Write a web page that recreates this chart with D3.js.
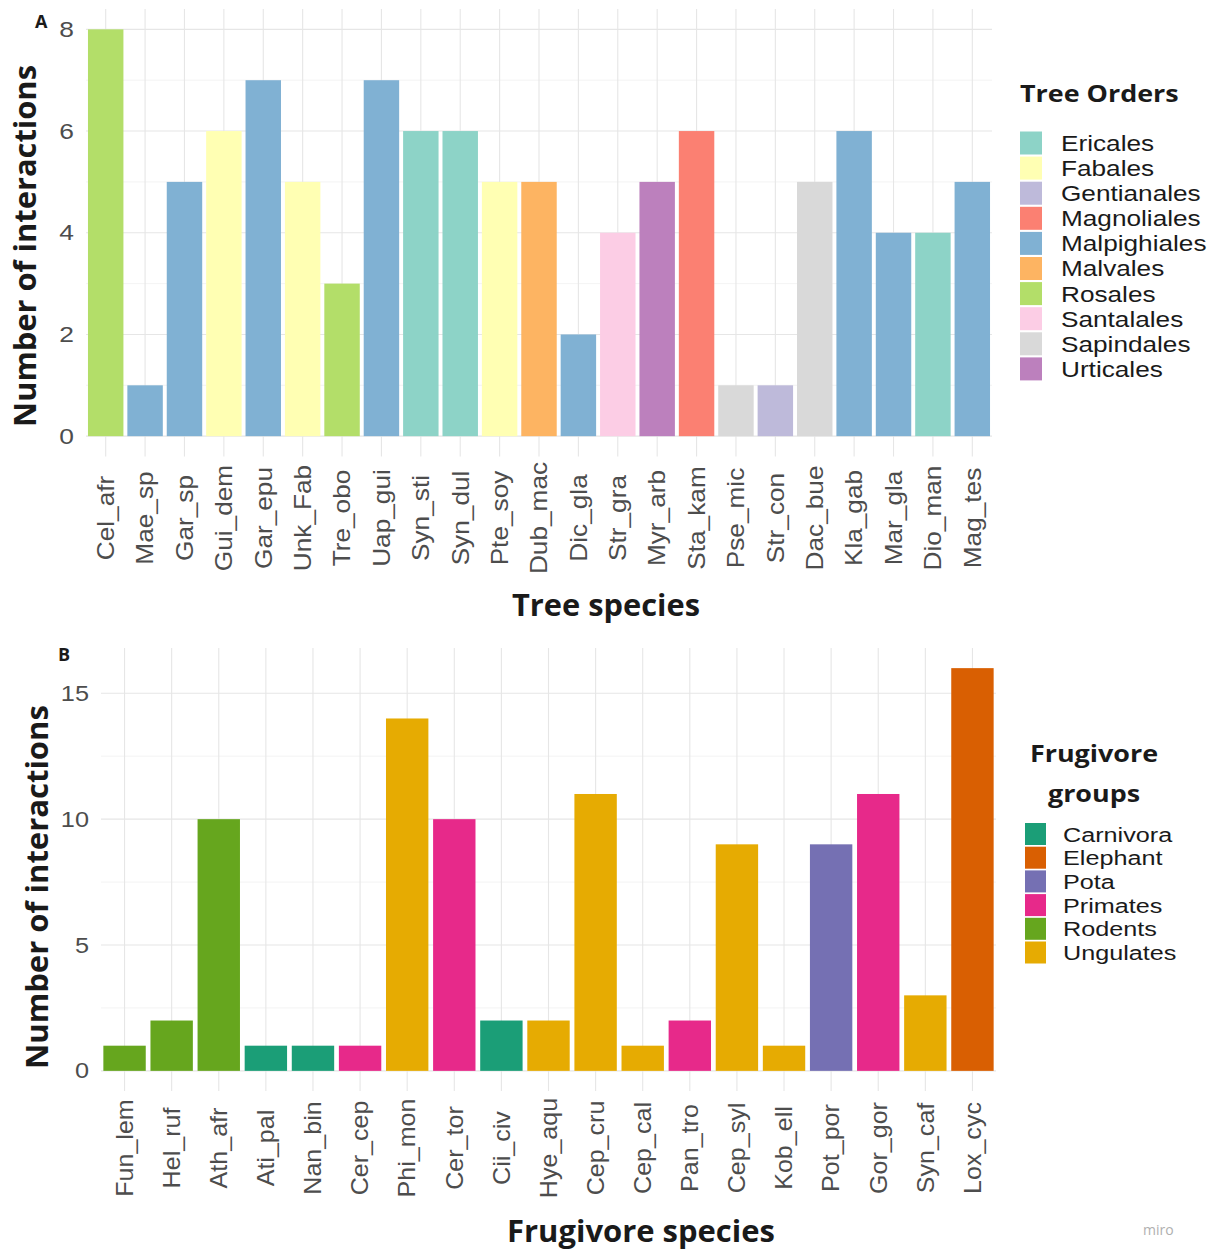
<!DOCTYPE html>
<html><head><meta charset="utf-8">
<script src="https://cdn.jsdelivr.net/npm/d3@7"></script>
<style>body{margin:0;background:#fff}svg{display:block}</style>
</head><body>
<svg id="c" width="1217" height="1250"></svg>
<script>
// Panel A data
const treeSpecies = ["Cel_afr","Mae_sp","Gar_sp","Gui_dem","Gar_epu","Unk_Fab","Tre_obo","Uap_gui","Syn_sti","Syn_dul","Pte_soy","Dub_mac","Dic_gla","Str_gra","Myr_arb","Sta_kam","Pse_mic","Str_con","Dac_bue","Kla_gab","Mar_gla","Dio_man","Mag_tes"];
const treeValues = [8,1,5,6,7,5,3,7,6,6,5,5,2,4,5,6,1,1,5,6,4,4,5];
const treeOrderOf = ["Rosales","Malpighiales","Malpighiales","Fabales","Malpighiales","Fabales","Rosales","Malpighiales","Ericales","Ericales","Fabales","Malvales","Malpighiales","Santalales","Urticales","Magnoliales","Sapindales","Gentianales","Sapindales","Malpighiales","Malpighiales","Ericales","Malpighiales"];
const treeOrders = ["Ericales","Fabales","Gentianales","Magnoliales","Malpighiales","Malvales","Rosales","Santalales","Sapindales","Urticales"];
const treeColors = ["#8DD3C7","#FFFFB3","#BEBADA","#FB8072","#80B1D3","#FDB462","#B3DE69","#FCCDE5","#D9D9D9","#BC80BD"];
const treeTicks = [0,2,4,6,8];

// Panel B data
const frugSpecies = ["Fun_lem","Hel_ruf","Ath_afr","Ati_pal","Nan_bin","Cer_cep","Phi_mon","Cer_tor","Cii_civ","Hye_aqu","Cep_cru","Cep_cal","Pan_tro","Cep_syl","Kob_ell","Pot_por","Gor_gor","Syn_caf","Lox_cyc"];
const frugValues = [1,2,10,1,1,1,14,10,2,2,11,1,2,9,1,9,11,3,16];
const frugGroupOf = ["Rodents","Rodents","Rodents","Carnivora","Carnivora","Primates","Ungulates","Primates","Carnivora","Ungulates","Ungulates","Ungulates","Primates","Ungulates","Ungulates","Pota","Primates","Ungulates","Elephant"];
const frugGroups = ["Carnivora","Elephant","Pota","Primates","Rodents","Ungulates"];
const frugColors = ["#1B9E77","#D95F02","#7570B3","#E7298A","#66A61E","#E6AB02"];
const frugTicks = [0,5,10,15];

const svg = d3.select("#c");
const titleFont = "'Open Sans', sans-serif";
const tickFont = "'Liberation Sans', Arial, sans-serif";

function fitText(sel, target){
  const len = sel.node().getComputedTextLength();
  const fs = parseFloat(sel.attr("font-size"));
  sel.attr("font-size", fs*target/len);
}
// horizontally stretched text placed at (x,y)
function sText(parent, x, y, s){
  return parent.append("g").attr("transform",`translate(${x},${y}) scale(${s},1)`).append("text");
}

function panel(o){
  const g = svg.append("g");
  const x = d3.scaleBand().domain(o.cats).range([o.x0,o.x1]).paddingInner(0.1).paddingOuter(0.05);
  const y = d3.scaleLinear().domain([o.ymin,o.ymax]).range([o.yb,o.yt]);
  // grid
  const grid = g.append("g");
  o.minor.forEach(v=>grid.append("line").attr("x1",o.x0).attr("x2",o.x1).attr("y1",y(v)).attr("y2",y(v)).attr("stroke","#f0f0f0").attr("stroke-width",0.8));
  o.ticks.forEach(v=>grid.append("line").attr("x1",o.x0).attr("x2",o.x1).attr("y1",y(v)).attr("y2",y(v)).attr("stroke","#e6e6e6").attr("stroke-width",1.1));
  o.cats.forEach(c=>grid.append("line").attr("x1",x(c)+x.bandwidth()/2).attr("x2",x(c)+x.bandwidth()/2).attr("y1",o.yt).attr("y2",o.yb).attr("stroke","#e6e6e6").attr("stroke-width",1.1));
  // bars
  g.selectAll("rect.bar").data(o.cats).join("rect").attr("class","bar")
    .attr("x",c=>x(c)).attr("width",x.bandwidth())
    .attr("y",(c,i)=>y(o.vals[i])).attr("height",(c,i)=>y(0)-y(o.vals[i]))
    .attr("fill",(c,i)=>o.colors[o.groups.indexOf(o.groupOf[i])]);
  // y ticks
  const ya = g.append("g").attr("transform",`translate(${o.yTickX},0)`)
    .call(d3.axisLeft(y).tickValues(o.ticks).tickSize(0).tickPadding(0));
  ya.select(".domain").remove();
  ya.selectAll("text").attr("font-family",tickFont).attr("font-size",o.yTickFs).attr("fill","#4d4d4d")
    .attr("x",0).attr("transform",`scale(${o.yTickStretch},1)`);
  // x ticks
  const xa = g.append("g").attr("transform",`translate(0,${o.xLabY})`)
    .call(d3.axisBottom(x).tickSize(0).tickPadding(0));
  xa.select(".domain").remove();
  xa.selectAll("text").attr("font-family",tickFont).attr("font-size",o.xTickFs).attr("fill","#4d4d4d")
    .attr("transform",`rotate(-90) scale(${o.xTickStretch},1)`).attr("text-anchor","middle").attr("x",0).attr("y",0).attr("dy","0.36em");
  // titles
  const yt = g.append("text").attr("transform",`translate(${o.yTitleX},${o.yTitleY}) rotate(-90)`)
    .attr("text-anchor","middle").attr("font-family",titleFont).attr("font-weight",700)
    .attr("font-size",30).attr("fill","#1a1a1a").text("Number of interactions");
  fitText(yt,o.yTitleLen);
  const xt = g.append("text").attr("x",o.xTitleX).attr("y",o.xTitleY)
    .attr("text-anchor","middle").attr("font-family",titleFont).attr("font-weight",700)
    .attr("font-size",28).attr("fill","#1a1a1a").text(o.xTitle);
  fitText(xt,o.xTitleLen);
  g.append("text").attr("x",o.tagX).attr("y",o.tagY).attr("font-family",titleFont).attr("font-weight",700)
    .attr("font-size",18).attr("fill","#1a1a1a").text(o.tag);
  // legend
  const lg = g.append("g");
  o.legTitle.forEach((t,i)=>{
    sText(lg, o.legTitleX, o.legTitleY+i*o.legTitleStep, o.legTitleStretch)
      .attr("text-anchor",o.legTitleAnchor).attr("font-family",titleFont).attr("font-weight",700)
      .attr("font-size",o.legTitleFs).attr("fill","#1a1a1a").text(t);
  });
  o.groups.forEach((gname,i)=>{
    const cy = o.legY0 + i*o.legStep;
    lg.append("rect").attr("x",o.legX).attr("y",cy-o.legKey/2).attr("width",o.legKeyW).attr("height",o.legKey).attr("fill",o.colors[i]);
    sText(lg, o.legTextX, cy, o.legStretch).attr("dy","0.36em")
      .attr("font-family",tickFont).attr("font-size",o.legFs).attr("fill","#1a1a1a").text(gname);
  });
}

panel({
  cats:treeSpecies, vals:treeValues, groupOf:treeOrderOf, groups:treeOrders, colors:treeColors,
  x0:86, x1:992, ymin:-0.4, ymax:8.4, yb:456.5, yt:9, ticks:treeTicks, minor:[1,3,5,7],
  yTickX:74, yTickFs:22, yTickStretch:1.2, xTickFs:23, xTickStretch:1.14, xLabY:518,
  yTitleX:36, yTitleY:246, yTitleLen:362,
  xTitle:"Tree species", xTitleX:606, xTitleY:616, xTitleLen:188,
  tag:"A", tagX:35, tagY:28,
  legTitle:["Tree Orders"], legTitleX:1020, legTitleY:102, legTitleStep:0, legTitleAnchor:"start", legTitleFs:23, legTitleStretch:1.17,
  legX:1020, legKeyW:22, legKey:23, legY0:143, legStep:25.1, legTextX:1061, legFs:22, legStretch:1.19
});

panel({
  cats:frugSpecies, vals:frugValues, groupOf:frugGroupOf, groups:frugGroups, colors:frugColors,
  x0:101, x1:996, ymin:-0.8, ymax:16.8, yb:1091, yt:648, ticks:frugTicks, minor:[2.5,7.5,12.5],
  yTickX:89, yTickFs:22, yTickStretch:1.15, xTickFs:23, xTickStretch:1.09, xLabY:1148,
  yTitleX:48, yTitleY:887, yTitleLen:364,
  xTitle:"Frugivore species", xTitleX:641, xTitleY:1242, xTitleLen:268,
  tag:"B", tagX:58, tagY:661,
  legTitle:["Frugivore","groups"], legTitleX:1094, legTitleY:762, legTitleStep:40, legTitleAnchor:"middle", legTitleFs:23, legTitleStretch:1.17,
  legX:1025, legKeyW:21, legKey:22, legY0:834, legStep:23.7, legTextX:1063, legFs:21, legStretch:1.2
});

svg.append("text").attr("x",1143).attr("y",1235).attr("font-family",titleFont).attr("font-size",14)
  .attr("fill","#b0b0b0").text("miro");
</script>
</body></html>
